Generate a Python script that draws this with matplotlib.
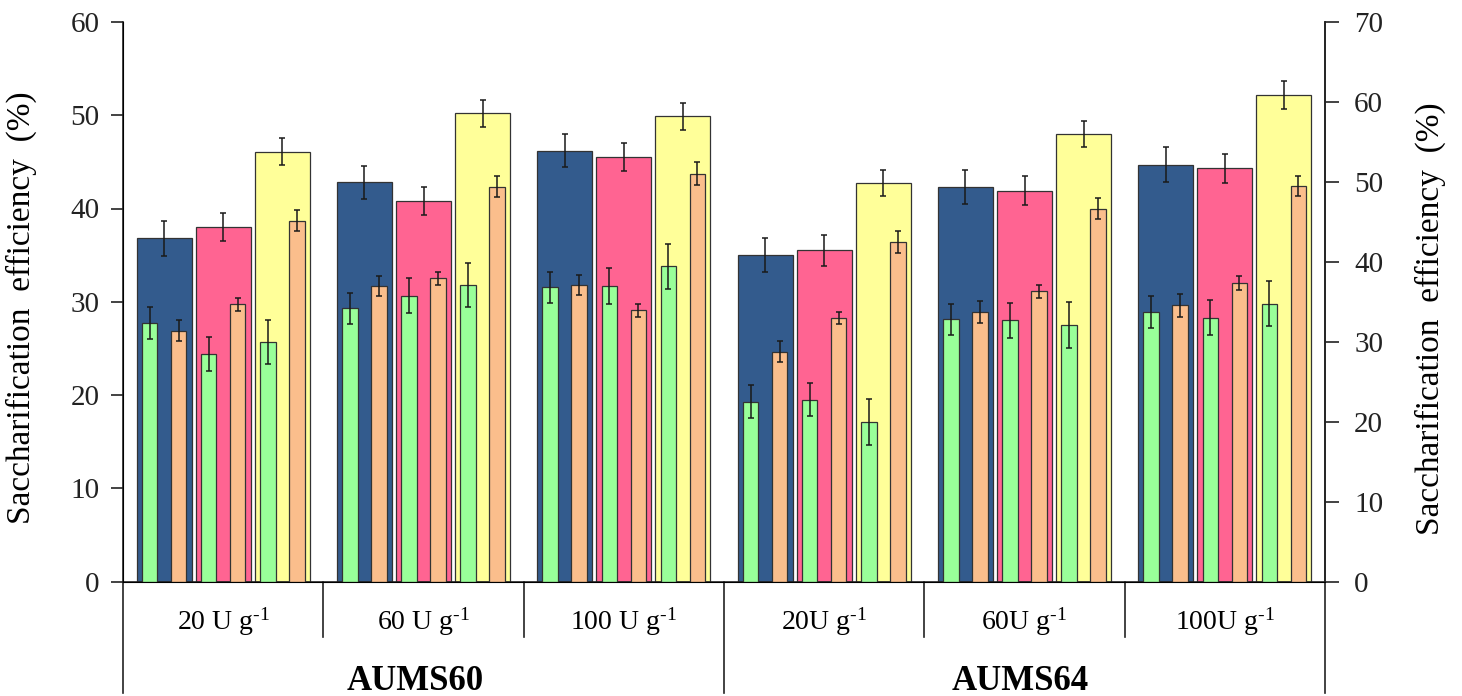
import numpy as np
import matplotlib
matplotlib.use("Agg")
import matplotlib.pyplot as plt

plt.rcParams["font.family"] = ["Liberation Serif", "DejaVu Serif"]
plt.rcParams["mathtext.fontset"] = "custom"
plt.rcParams["mathtext.rm"] = "Liberation Serif"
plt.rcParams["mathtext.default"] = "regular"

# group labels along the x axis
doses = ["20 U g$^{\\text{-}1}$", "60 U g$^{\\text{-}1}$", "100 U g$^{\\text{-}1}$",
         "20U g$^{\\text{-}1}$", "60U g$^{\\text{-}1}$", "100U g$^{\\text{-}1}$"]
strains = ["AUMS60", "AUMS64"]

# wide bars (left axis, %)
navy = [36.8, 42.8, 46.2, 35.0, 42.3, 44.7]
navy_err = [1.85, 1.8, 1.8, 1.8, 1.8, 1.85]
pink = [38.0, 40.8, 45.5, 35.5, 41.9, 44.3]
pink_err = [1.5, 1.55, 1.5, 1.65, 1.55, 1.55]
yellow = [46.1, 50.2, 49.9, 42.7, 48.0, 52.2]
yellow_err = [1.45, 1.45, 1.45, 1.4, 1.4, 1.5]

# narrow bars inside each wide bar (green left, orange right)
green = [
    [27.75, 29.3, 31.55, 19.3, 28.1, 28.9],
    [24.4, 30.65, 31.7, 19.5, 28.0, 28.3],
    [25.7, 31.8, 33.8, 17.1, 27.5, 29.8],
]
green_err = [
    [1.7, 1.65, 1.65, 1.8, 1.7, 1.7],
    [1.8, 1.9, 1.9, 1.8, 1.85, 1.85],
    [2.35, 2.4, 2.4, 2.45, 2.45, 2.4],
]
orange = [
    [26.9, 31.7, 31.8, 24.65, 28.9, 29.6],
    [29.75, 32.5, 29.1, 28.3, 31.1, 32.0],
    [38.7, 42.35, 43.75, 36.4, 40.0, 42.4],
]
orange_err = [
    [1.15, 1.1, 1.1, 1.1, 1.2, 1.2],
    [0.7, 0.7, 0.7, 0.65, 0.7, 0.75],
    [1.15, 1.15, 1.2, 1.15, 1.1, 1.1],
]

wide_colors = ["#335B8D", "#FF6492", "#FFFF99"]
green_color = "#99FF99"
orange_color = "#FBBE8C"

fig = plt.figure(figsize=(14.62, 6.96), dpi=100)
ax = fig.add_axes([123 / 1462, 1 - 581.5 / 696, 1202 / 1462, 559.5 / 696])

centers = np.arange(6) + 0.5
wide_off = [-0.295, 0.0, 0.295]
wide_w = 0.275
narrow_off = 0.0725
narrow_w = 0.0775
err_kw = dict(ecolor="#1a1a1a", elinewidth=1.1, capsize=2.3, capthick=1.1)

wides = [(navy, navy_err), (pink, pink_err), (yellow, yellow_err)]
for i, (vals, errs) in enumerate(wides):
    x = centers + wide_off[i]
    ax.bar(x, vals, wide_w, color=wide_colors[i], edgecolor="#333333",
           linewidth=0.9, zorder=2)
    ax.errorbar(x, vals, yerr=errs, fmt="none", zorder=3, **err_kw)

    xg = x - narrow_off
    ax.bar(xg, green[i], narrow_w, color=green_color, edgecolor="#333333",
           linewidth=0.9, zorder=4)
    ax.errorbar(xg, green[i], yerr=green_err[i], fmt="none", zorder=5, **err_kw)

    xo = x + narrow_off
    ax.bar(xo, orange[i], narrow_w, color=orange_color, edgecolor="#333333",
           linewidth=0.9, zorder=4)
    ax.errorbar(xo, orange[i], yerr=orange_err[i], fmt="none", zorder=5, **err_kw)

ax.set_xlim(0, 6)
ax.set_ylim(0, 60)
ax.set_yticks(range(0, 61, 10))
ax.set_xticks([])
ax.spines["top"].set_visible(False)
for s in ["left", "bottom", "right"]:
    ax.spines[s].set_linewidth(1.2)
    ax.spines[s].set_color("#222222")
ax.tick_params(axis="y", direction="out", length=9, width=1.2, labelsize=21,
               pad=8, colors="#222222")
ax.set_ylabel("Saccharification  efficiency  (%)", fontsize=24)
ax.yaxis.set_label_coords(-0.0716, 0.49)

ax2 = ax.twinx()
ax2.set_ylim(0, 70)
ax2.set_yticks(range(0, 71, 10))
ax2.spines["top"].set_visible(False)
ax2.spines["right"].set_linewidth(1.2)
ax2.spines["right"].set_color("#222222")
ax2.tick_params(axis="y", direction="out", length=10, width=1.2, labelsize=21,
                pad=11, colors="#222222")
ax2.set_ylabel("Saccharification  efficiency  (%)", fontsize=24)
ax2.yaxis.set_label_coords(1.075, 0.47)

# category frame below the axis
long_drop = -(693 - 581.5) / 559.5
short_drop = -(637 - 581.5) / 559.5
tr = ax.get_xaxis_transform()
for xv in [0, 3, 6]:
    ax.plot([xv, xv], [0, long_drop], transform=tr, color="#222222",
            lw=1.2, clip_on=False)
for xv in [1, 2, 4, 5]:
    ax.plot([xv, xv], [0, short_drop], transform=tr, color="#222222",
            lw=1.2, clip_on=False)

label_y = -(630 - 581.5) / 559.5
for c, lab in zip(centers, doses):
    ax.text(c, label_y, lab, transform=tr, ha="center", va="baseline",
            fontsize=20)

strain_y = -(690 - 581.5) / 559.5
for xs, name in zip([1.46, 4.48], strains):
    ax.text(xs, strain_y, name, transform=tr, ha="center",
            va="baseline", fontsize=25, fontweight="bold")

fig.savefig("out.png", dpi=100)
